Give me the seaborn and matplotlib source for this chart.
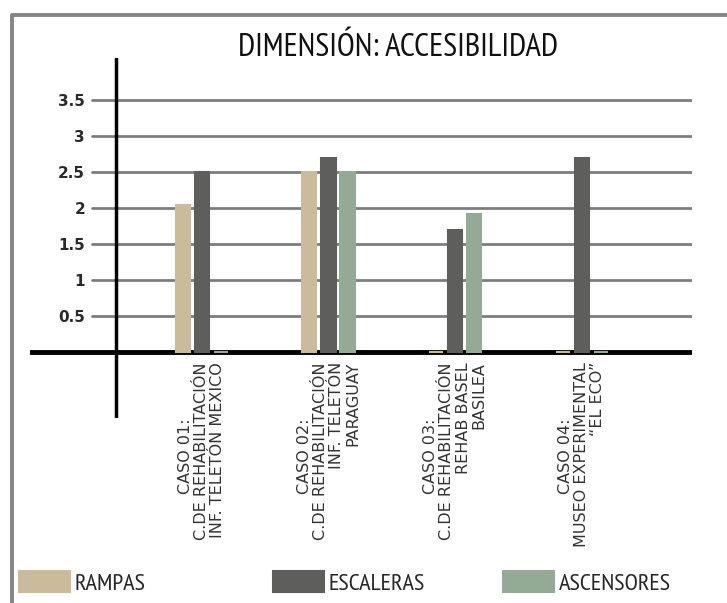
import numpy as np
import pandas as pd
import matplotlib
matplotlib.use("Agg")
import matplotlib.pyplot as plt
from matplotlib.lines import Line2D
import seaborn as sns

# ---------------- data ----------------
casos = ["CASO 01", "CASO 02", "CASO 03", "CASO 04"]
etiquetas = [
    "CASO 01:" + " " * 11 + "\nC.DE REHABILITACIÓN\nINF. TELETÓN MEXICO",
    "CASO 02:" + " " * 11 + "\nC.DE REHABILITACIÓN\nINF. TELETÓN\nPARAGUAY",
    "CASO 03:" + " " * 11 + "\nC.DE REHABILITACIÓN\nREHAB BASEL\nBASILEA",
    "CASO 04:" + " " * 11 + "\nMUSEO EXPERIMENTAL\n“EL ECO”",
]
series = ["RAMPAS", "ESCALERAS", "ASCENSORES"]
rampas = [2.05, 2.5, 0, 0]
escaleras = [2.5, 2.7, 1.7, 2.7]
ascensores = [0, 2.5, 1.93, 0]
colores = ["#cbbb9b", "#5e5e5c", "#93ab95"]
yticks = [0.5, 1, 1.5, 2, 2.5, 3, 3.5]
ytick_labels = ["0.5", "1", "1.5", "2", "2.5", "3", "3.5"]
titulo = "DIMENSIÓN: ACCESIBILIDAD"

df = pd.DataFrame({
    "caso": casos * 3,
    "tipo": np.repeat(series, len(casos)),
    "valor": rampas + escaleras + ascensores,
})

# ---------------- figure ----------------
sns.set_theme(style="white")
plt.rcParams["font.family"] = ["DejaVu Sans"]
NARROW = ["PT Sans Narrow", "Roboto Condensed", "DejaVu Sans"]

W, H = 727, 603
fig = plt.figure(figsize=(W / 100, H / 100), dpi=100)
fig.patch.set_facecolor("white")
ax = fig.add_axes([30 / W, 1 - 418 / H, 662 / W, 360 / H])

sns.barplot(data=df, x="caso", y="valor", hue="tipo", order=casos,
            hue_order=series, palette=colores, width=0.45, gap=0.25,
            saturation=1, errorbar=None, ax=ax)

for p in ax.patches:
    p.set_edgecolor(p.get_facecolor())
    p.set_linewidth(1.5)

ax.set_xlim(-1.355, 3.870)
ax.set_ylim(-0.91, 4.09)
for s in ax.spines.values():
    s.set_visible(False)
ax.set_facecolor("white")

for y in yticks:
    ax.axhline(y, xmin=62 / 662, xmax=1, color="#7d7d7d", lw=2, zorder=0.5)
ax.axhline(0, color="black", lw=3.5, zorder=0.6)
ax.axvline(-0.676, color="black", lw=2.5, zorder=0.6)

ax.set_yticks(yticks, ytick_labels)
ax.tick_params(axis="y", length=0, pad=-39.6, labelsize=11, labelcolor="#2a2a2a")
for t in ax.get_yticklabels():
    t.set_fontweight("bold")

ax.set_xticks(range(len(casos)), etiquetas)
ax.tick_params(axis="x", length=0, pad=-40.3, labelsize=11.5, labelcolor="#333333")
for t in ax.get_xticklabels():
    t.set_rotation(90)
    t.set_va("top")
    t.set_ha("center")
    t.set_multialignment("right")
    t.set_linespacing(1.1)

ax.set_xlabel("")
ax.set_ylabel("")

handles, labels = ax.get_legend_handles_labels()
if ax.get_legend() is not None:
    ax.get_legend().remove()
for h, lab, x in zip(handles, labels, [19, 273, 503]):
    fig.legend([h], [lab], loc="center left", bbox_to_anchor=(x / W, 1 - 583 / H),
               frameon=False, handlelength=2.1, handleheight=0.95,
               handletextpad=0.2, borderpad=0, borderaxespad=0,
               prop={"family": NARROW, "size": 17.5})

fig.text(398 / W, 1 - 56 / H, titulo, ha="center", va="baseline",
         family=NARROW, size=23.5, color="#111111")

fig.add_artist(Line2D([12 / W, 12 / W, 1], [0, 1 - 15 / H, 1 - 15 / H],
                      transform=fig.transFigure, color="#858585", lw=2.8))

fig.savefig("out.png", dpi=100)
